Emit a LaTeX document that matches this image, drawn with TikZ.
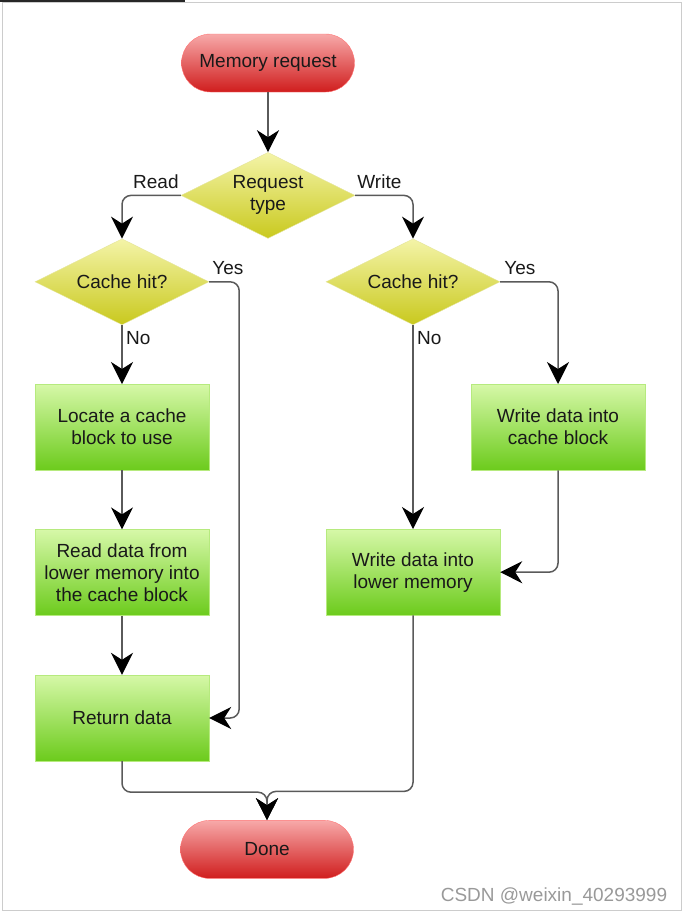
\documentclass[tikz,border=0pt]{standalone}
\usepackage{fontspec}
\setmainfont{Liberation Sans}
\usepackage{tikz}
\usetikzlibrary{positioning}
\usetikzlibrary{arrows.meta}
\usetikzlibrary{shapes.geometric,shapes.misc}
\definecolor{pilltop}{HTML}{F7A9A9}
\definecolor{pillbot}{HTML}{D01D1D}
\definecolor{diatop}{HTML}{F4F4A8}
\definecolor{diabot}{HTML}{C9C91E}
\definecolor{boxtop}{HTML}{D6F8A8}
\definecolor{boxbot}{HTML}{6CCB1C}
\definecolor{linegray}{HTML}{5A5A5A}
\tikzset{
every node/.style={font=\fontsize{19pt}{22pt}\selectfont, text=black!90},
terminal/.style={rounded rectangle, draw=red!55, top color=pilltop, bottom color=pillbot, minimum width=173pt, minimum height=58pt, inner sep=0pt},
decision/.style={diamond, aspect=2, draw=diatop!80!black!30!diatop, top color=diatop, bottom color=diabot, minimum width=174pt, minimum height=86pt, inner sep=0pt, align=center},
process/.style={rectangle, draw=boxtop!70!boxbot, top color=boxtop, bottom color=boxbot, minimum width=174pt, minimum height=86pt, inner sep=0pt, align=center},
flow/.style={draw=linegray, line width=1.5pt, rounded corners=9pt, -{Stealth[length=22pt, width=22pt, inset=7pt, color=black]}},
lbl/.style={inner sep=0pt}
}

\begin{document}
\begin{tikzpicture}[x=1pt, y=-1pt]
\useasboundingbox (0,0) rectangle (686,914);
\draw[black!20, line width=1pt] (2.5,2.5) rectangle (681,910);
\fill[black!85] (0,0) rectangle (185,1.6);

%Nodes
\node (mem) [terminal] at (268,63) {Memory request};
\node (req) [decision, below=60pt of mem] {Request\\type};
\node (hitL) [decision, below=0pt of req, xshift=-146pt] {Cache hit?};
\node (hitR) [decision, below=0pt of req, xshift=145pt] {Cache hit?};
\node (locate) [process, below=59pt of hitL] {Locate a cache\\block to use};
\node (readmem) [process, below=59pt of locate] {Read data from\\lower memory into\\the cache block};
\node (ret) [process, below=59pt of readmem] {Return data};
\node (wcache) [process, below=59pt of hitR, xshift=145pt] {Write data into\\cache block};
\node (wlow) [process, below=204pt of hitR] {Write data into\\lower memory};
\node (done) [terminal, below=59pt of ret, xshift=145pt] {Done};

%Labels
\node (read) [lbl, above left=7pt and 2pt of req.west] {Read};
\node (write) [lbl, above right=7pt and 2pt of req.east] {Write};
\node (yesL) [lbl, above right=7pt and 3pt of hitL.east] {Yes};
\node (noL) [lbl, below right=6pt and 4pt of hitL.south] {No};
\node (yesR) [lbl, above right=7pt and 4pt of hitR.east] {Yes};
\node (noR) [lbl, below right=6pt and 4pt of hitR.south] {No};
\node (mark) [lbl, text=black!40] at (554,896) {CSDN @weixin\_40293999};

%Lines
\draw[flow] (mem.south) -- (req.north);
\draw[flow] (req.west) -| (hitL.north);
\draw[flow] (req.east) -| (hitR.north);
\draw[flow] (hitL.south) -- (locate.north);
\draw[flow] (locate.south) -- (readmem.north);
\draw[flow] (readmem.south) -- (ret.north);
\draw[flow] (hitL.east) -- ++(30,0) |- (ret.east);
\draw[flow] (hitR.east) -| (wcache.north);
\draw[flow] (hitR.south) -- (wlow.north);
\draw[flow] (wcache.south) |- (wlow.east);
\draw[flow] (ret.south) -- ++(0,31) -| (done.north);
\draw[flow] (wlow.south) -- ++(0,176) -| (done.north);
\end{tikzpicture}
\end{document}
